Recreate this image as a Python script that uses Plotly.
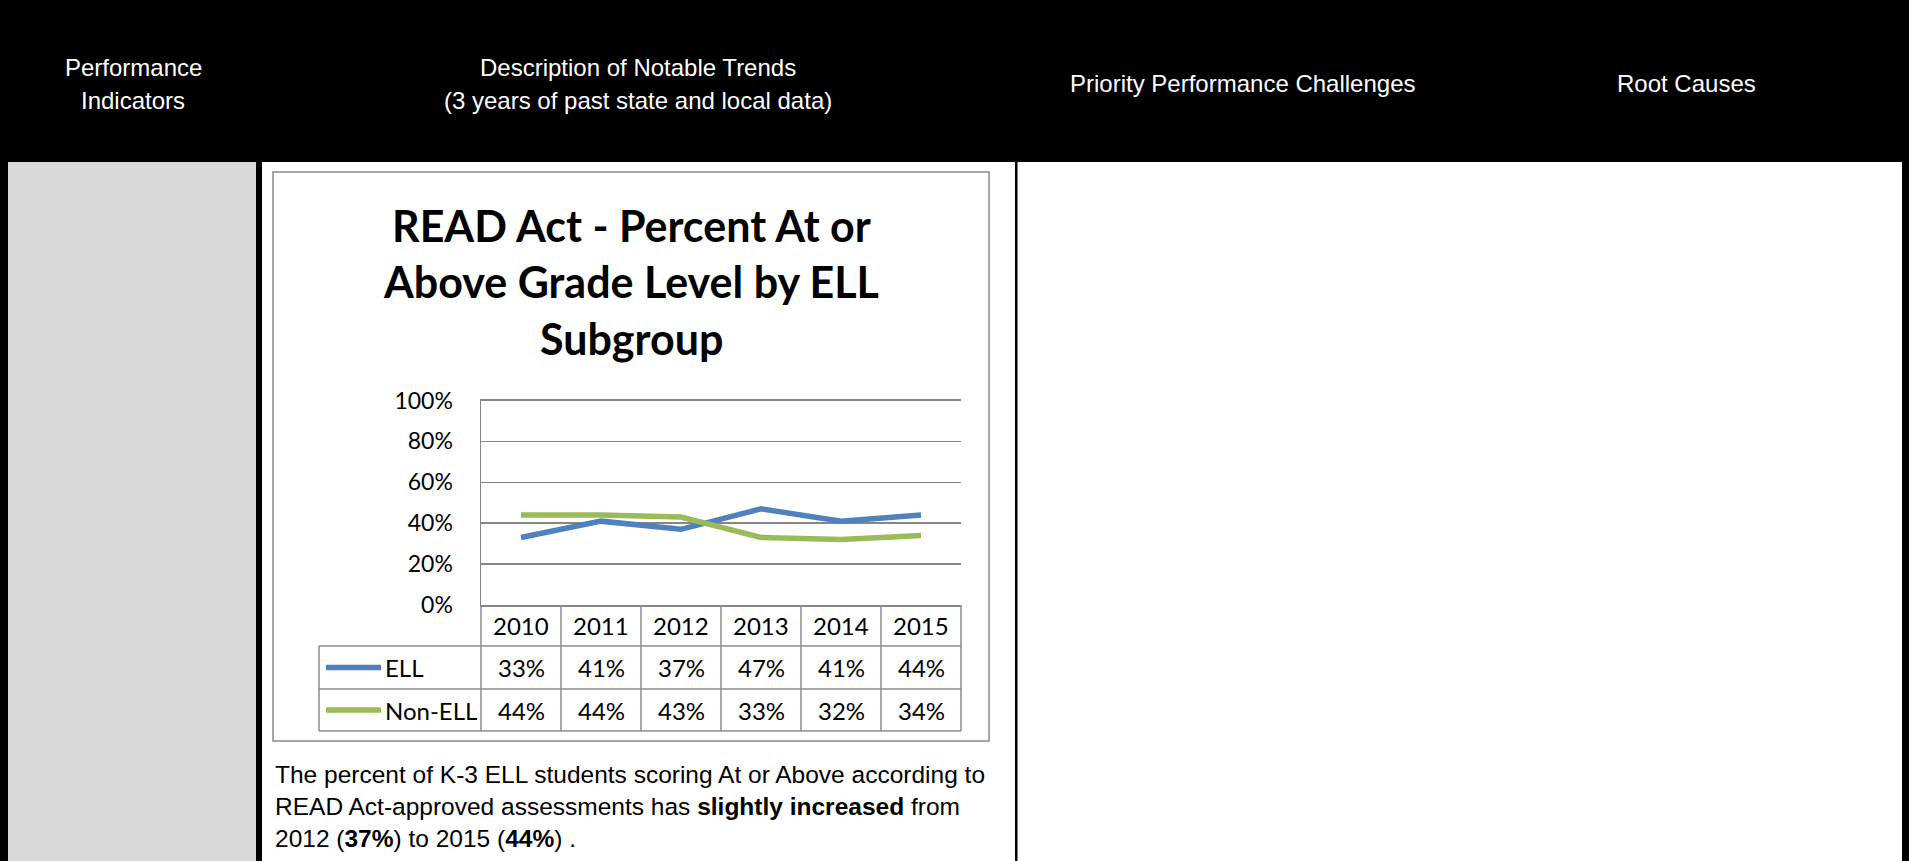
import plotly.graph_objects as go

# ---------------- data ----------------
years = ["2010", "2011", "2012", "2013", "2014", "2015"]
ell_values = [33, 41, 37, 47, 41, 44]
non_ell_values = [44, 44, 43, 33, 32, 34]
series_names = ["ELL", "Non-ELL"]
series_colors = ["#4F81BD", "#9BBB59"]
y_ticks = [0, 0.2, 0.4, 0.6, 0.8, 1.0]

chart_title_lines = ["READ Act - Percent At or", "Above Grade Level by ELL", "Subgroup"]
header_cols = [
    (["Performance", "Indicators"], 133),
    (["Description of Notable Trends", "(3 years of past state and local data)"], 638),
    (["Priority Performance Challenges"], 1242),
    (["Root Causes"], 1686),
]
paragraph_lines = [
    "The percent of K-3 ELL students scoring At or Above according to",
    "READ Act-approved assessments has <b>slightly increased</b> from",
    "2012 (<b>37%</b>) to 2015 (<b>44%</b>) .",
]

# ---------------- layout helpers ----------------
W, H = 1909, 861
def px(x):
    return x / W
def py(y):
    return 1 - y / H

NARROW = "Liberation Sans Narrow, Arial Narrow, Liberation Sans, Arial, sans-serif"
CHART_FONT = "Lato, Open Sans, sans-serif"
GRID = "#868686"
TBL = "#8C8C8C"

plot_l, plot_r, plot_t, plot_b = 481, 961, 400.5, 605
row1_b, row2_b, row3_b = 646, 689, 731
leg_l = 319

fig = go.Figure()

all_values = [ell_values, non_ell_values]
xs = list(range(len(years)))
for name, vals, col in zip(series_names, all_values, series_colors):
    fig.add_trace(go.Scatter(
        x=xs, y=[v / 100 for v in vals], mode="lines", name=name,
        line=dict(color=col, width=5.5), showlegend=False, hoverinfo="skip",
    ))

shapes = []
def rect(x0, y0, x1, y1, fill, line_color=None, lw=0):
    shapes.append(dict(type="rect", xref="paper", yref="paper",
                       x0=px(x0), x1=px(x1), y0=py(y0), y1=py(y1),
                       fillcolor=fill, line=dict(color=line_color or fill, width=lw),
                       layer="below"))
def pline(x0, y0, x1, y1, color, lw, layer="above"):
    shapes.append(dict(type="line", xref="paper", yref="paper",
                       x0=px(x0), x1=px(x1), y0=py(y0), y1=py(y1),
                       line=dict(color=color, width=lw), layer=layer))

# page table
rect(0, 0, W, 162, "#000000")
rect(0, 162, 8, H, "#000000")
rect(8, 162, 256, H, "#D9D9D9")
rect(256, 162, 262, H, "#000000")
rect(1015, 162, 1017.5, H, "#000000")
rect(1902, 162, W, H, "#000000")
# chart frame
shapes.append(dict(type="rect", xref="paper", yref="paper",
                   x0=px(273), x1=px(989), y0=py(172), y1=py(741),
                   fillcolor="rgba(0,0,0,0)", line=dict(color="#8A8A8A", width=1.5),
                   layer="below"))

# data table grid
for yy in (row1_b, row2_b, row3_b):
    pline(leg_l, yy, plot_r, yy, TBL, 1.5)
pline(leg_l, row1_b, leg_l, row3_b, TBL, 1.5)
pline(plot_l, plot_b, plot_l, row3_b, TBL, 1.5)
pline(plot_r, plot_b, plot_r, row3_b, TBL, 1.5)
for i in range(1, len(years)):
    shapes.append(dict(type="line", xref="x", yref="paper",
                       x0=i - 0.5, x1=i - 0.5, y0=py(plot_b), y1=py(row3_b),
                       line=dict(color=TBL, width=1.5)))

annotations = []
# header texts
for lines, cx in header_cols:
    ys = [67, 100] if len(lines) == 2 else [84]
    for t, yy in zip(lines, ys):
        annotations.append(dict(text=t, xref="paper", yref="paper", x=px(cx), y=py(yy),
                                xanchor="center", yanchor="middle", showarrow=False,
                                font=dict(family=NARROW, size=24, color="#FFFFFF")))
# chart title
for t, yy in zip(chart_title_lines, [225, 281, 338]):
    annotations.append(dict(text="<b>" + t + "</b>", xref="paper", yref="paper",
                            x=px(631), y=py(yy), xanchor="center", yanchor="middle",
                            showarrow=False,
                            font=dict(family=CHART_FONT, size=43, color="#000000")))
# year row + value rows
row_centers = [(plot_b + row1_b) / 2, (row1_b + row2_b) / 2, (row2_b + row3_b) / 2]
for i, yr in enumerate(years):
    annotations.append(dict(text=yr, xref="x", yref="paper", x=i, y=py(row_centers[0]),
                            xanchor="center", yanchor="middle", showarrow=False,
                            font=dict(family=CHART_FONT, size=24, color="#000000")))
for r, (name, vals, col) in enumerate(zip(series_names, all_values, series_colors)):
    yc = row_centers[r + 1]
    for i, v in enumerate(vals):
        annotations.append(dict(text=f"{v}%", xref="x", yref="paper", x=i, y=py(yc),
                                xanchor="center", yanchor="middle", showarrow=False,
                                font=dict(family=CHART_FONT, size=24, color="#000000")))
    pline(326, yc, 381, yc, col, 5.5)
    annotations.append(dict(text=name, xref="paper", yref="paper", x=px(383), y=py(yc),
                            xanchor="left", yanchor="middle", showarrow=False,
                            font=dict(family=CHART_FONT, size=24, color="#000000")))
# paragraph
for t, yy in zip(paragraph_lines, [774, 806, 838]):
    annotations.append(dict(text=t, xref="paper", yref="paper", x=px(273), y=py(yy),
                            xanchor="left", yanchor="middle", showarrow=False, align="left",
                            font=dict(family=NARROW, size=24.5, color="#000000")))

fig.update_layout(
    template="none",
    width=W, height=H, autosize=False,
    margin=dict(l=0, r=0, t=0, b=0, pad=0, autoexpand=False),
    paper_bgcolor="#FFFFFF", plot_bgcolor="rgba(0,0,0,0)",
    shapes=shapes, annotations=annotations, showlegend=False,
    xaxis=dict(domain=[px(plot_l), px(plot_r)], range=[-0.5, len(years) - 0.5],
               showgrid=False, zeroline=False, showticklabels=False, automargin=False,
               showline=True, mirror=True, linecolor=GRID, linewidth=1.5, fixedrange=True),
    yaxis=dict(domain=[py(plot_b), py(plot_t)], range=[0, 1], tickvals=y_ticks,
               tickformat=".0%", showgrid=True, gridcolor=GRID, gridwidth=1.5,
               zeroline=False, showline=True, linecolor=GRID, linewidth=1.5,
               ticks="", ticklabelstandoff=22, automargin=False,
               tickfont=dict(family=CHART_FONT, size=23, color="#000000"), fixedrange=True),
)

fig.write_html("out.html", config={"displayModeBar": False, "staticPlot": True})
